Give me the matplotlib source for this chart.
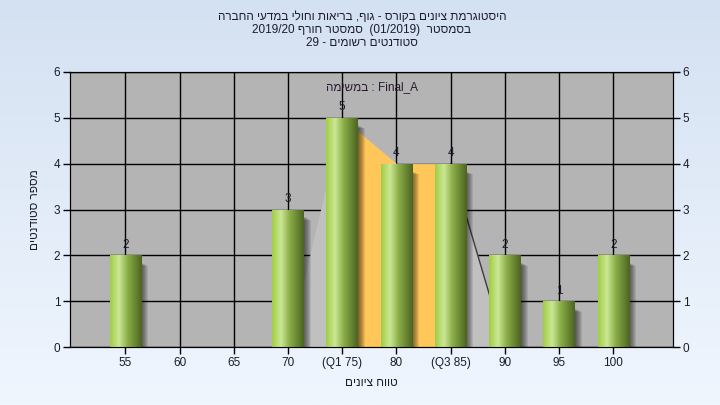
import numpy as np
import matplotlib
matplotlib.use('Agg')
import matplotlib.pyplot as plt
from matplotlib.colors import LinearSegmentedColormap

plt.rcParams['font.family'] = ['Liberation Sans', 'DejaVu Sans']

# данные гистограммы
categories = ['55', '60', '65', '70', '(Q1 75)', '80', '(Q3 85)', '90', '95', '100']
counts = [2, 0, 0, 3, 5, 4, 4, 2, 1, 2]
# фоновая область (межквартильный размах)
area_vals = [0, 0, 0, 0, 5, 4, 4, 0, 0, 0]
q1_idx, q3_idx = 4, 6

# тексты (иврит в визуальном порядке, т.к. matplotlib не делает bidi)
def vis(s):
    return s[::-1]

title_lines = [
    vis('היסטוגרמת ציונים בקורס - גוף, בריאות וחולי במדעי החברה'),
    '2019/20 ' + vis('סמסטר חורף') + '  (01/2019)  ' + vis('בסמסטר'),
    '29 - ' + vis('סטודנטים רשומים'),
]
task_text = vis('במשימה') + ' : Final_A'
xlabel = vis('טווח ציונים')
ylabel = vis('מספר סטודנטים')

x = np.arange(len(categories))
bar_w = 0.58
text_col = '#1c1c2c'

fig = plt.figure(figsize=(7.2, 4.05), dpi=100)

# фон фигуры - градиент
bg = fig.add_axes([0, 0, 1, 1], zorder=-10)
grad = np.linspace(0, 1, 256).reshape(-1, 1)
bg_cmap = LinearSegmentedColormap.from_list('bg', ['#d4e1f2', '#f0f6fe'])
bg.imshow(grad, cmap=bg_cmap, aspect='auto', extent=[0, 1, 0, 1], origin='upper')
bg.axis('off')

ax = fig.add_axes([70 / 720, 1 - 347 / 405, 603 / 720, 275 / 405])
ax.set_facecolor('#b4b4b4')

# фоновая область
ax.fill_between(x, area_vals, color='#c0c0c0', lw=0, zorder=1)
ax.fill_between(x[q1_idx:q3_idx + 1], area_vals[q1_idx:q3_idx + 1],
                color='#ffc75a', lw=0, zorder=1.5)
ax.plot(x[q3_idx:q3_idx + 2], area_vals[q3_idx:q3_idx + 2], color='#3c3c3c', lw=1, zorder=1.6)

ax.grid(True, color='black', lw=1, zorder=0.5)
ax.set_axisbelow(True)

# столбики с градиентом и тенью
bar_cmap = LinearSegmentedColormap.from_list(
    'bar', [(0, '#a2cc44'), (0.28, '#cbe795'), (0.55, '#8caf48'), (1, '#4b6420')])
hgrad = np.linspace(0, 1, 128).reshape(1, -1)
for xi, v in zip(x, counts):
    if v == 0:
        continue
    for k in range(7):
        off = 0.02 + k * 0.018
        ax.bar(xi + off, v - 0.1 - k * 0.012, width=bar_w, bottom=-0.06,
               color='black', alpha=0.09, lw=0, zorder=2)
    b = ax.bar(xi, v, width=bar_w, color='#8caf48', lw=0, zorder=3)[0]
    im = ax.imshow(hgrad, cmap=bar_cmap, aspect='auto', zorder=3.5,
                   extent=[xi - bar_w / 2, xi + bar_w / 2, 0, v])
    im.set_clip_path(b)
    ax.text(xi, v + 0.1, str(v), ha='center', va='bottom', fontsize=8.5, color=text_col, zorder=5)

ax.set_xlim(-1.02, 10.1)
ax.set_ylim(0, 6)
ax.set_xticks(x)
ax.set_xticklabels(categories)
ax.set_yticks(range(7))
ax.tick_params(axis='both', direction='out', length=5, width=1, colors='black',
               labelcolor=text_col, labelsize=8.5, pad=2)
for s in ax.spines.values():
    s.set_color('black')

ax2 = ax.twinx()
ax2.set_ylim(0, 6)
ax2.set_yticks(range(7))
ax2.tick_params(axis='y', direction='out', length=5, width=1, labelcolor=text_col,
                labelsize=8.5, pad=2)

ax.set_xlabel(xlabel, fontsize=8.5, color=text_col, labelpad=6)
ax.set_ylabel(ylabel, fontsize=8.5, color=text_col, labelpad=9)

ax.text(0.5, 0.945, task_text, transform=ax.transAxes, ha='center', va='center',
        fontsize=8.5, color='#2a1a30')

for i, line in enumerate(title_lines):
    fig.text(362 / 720, 1 - (17 + 13 * i) / 405, line, ha='center', va='center',
             fontsize=8.5, color='#1c1c30')

fig.savefig('out.png', dpi=100)
